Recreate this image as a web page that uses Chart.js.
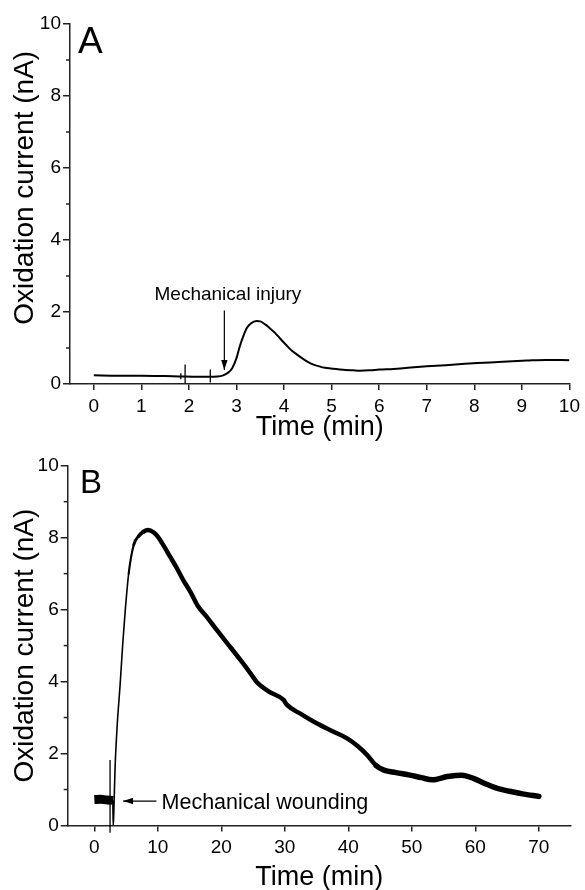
<!DOCTYPE html>
<html><head><meta charset="utf-8">
<script src="https://cdn.jsdelivr.net/npm/chart.js@4.4.1/dist/chart.umd.min.js"></script>
<style>
html,body{margin:0;padding:0;background:#fff;overflow:hidden;width:585px;height:890px;}
canvas{position:absolute;left:0;}
#cA{top:0;} #cB{top:445px;}
</style></head><body>
<canvas id="cA" width="585" height="445"></canvas>
<canvas id="cB" width="585" height="450"></canvas>
<script>
// ---------- Panel A data ----------
const timeA = [0, 0.5, 1.0, 1.5, 1.8, 2.2, 2.6, 2.72, 2.82, 2.91, 3.0, 3.07, 3.15, 3.22, 3.3, 3.42, 3.5, 3.61, 3.7, 3.81, 3.92, 4.04, 4.16, 4.28, 4.4, 4.51, 4.62, 4.74, 4.86, 4.98, 5.13, 5.29, 5.45, 5.6, 5.8, 6.0, 6.3, 6.6, 7.0, 7.4, 7.8, 8.2, 8.6, 9.1, 9.5, 10];
const currentA = [0.24, 0.23, 0.23, 0.22, 0.21, 0.20, 0.21, 0.24, 0.31, 0.44, 0.72, 1.05, 1.35, 1.56, 1.68, 1.75, 1.74, 1.65, 1.55, 1.42, 1.26, 1.09, 0.93, 0.81, 0.70, 0.61, 0.54, 0.49, 0.45, 0.43, 0.41, 0.39, 0.38, 0.37, 0.38, 0.40, 0.42, 0.45, 0.49, 0.52, 0.56, 0.59, 0.62, 0.65, 0.67, 0.66];
const spikeTimeA = [1.83, 1.92, 2.45];
const spikeTopA = [0.30, 0.54, 0.40];
const spikeBottomA = [0.13, 0.02, 0.04];

// ---------- Panel B data ----------
const timeB = [0, 1.0, 2.0, 2.9, 2.97, 3.05, 3.26, 3.6, 4.05, 4.45, 4.85, 5.4, 6.2, 7.0, 7.7, 8.5, 9.3, 9.9, 11.0, 12.0, 13.0, 14.0, 15.1, 16.3, 17.7, 19.3, 21.0, 23.0, 24.5, 25.6, 27.5, 29.8, 30.3, 32.5, 35.0, 37.5, 39.8, 41.5, 43.0, 44.4, 45.6, 47.5, 49.7, 51.5, 53.2, 55.6, 57.9, 59.7, 61.5, 63.0, 64.4, 66.0, 67.4, 70];
const currentB = [0.72, 0.73, 0.71, 0.70, 0.0, 0.3, 1.6, 2.8, 3.9, 5.0, 5.95, 7.0, 7.8, 8.05, 8.16, 8.21, 8.15, 8.05, 7.75, 7.45, 7.15, 6.82, 6.5, 6.1, 5.8, 5.43, 5.05, 4.6, 4.25, 3.98, 3.72, 3.49, 3.36, 3.1, 2.84, 2.62, 2.42, 2.2, 1.95, 1.66, 1.54, 1.47, 1.40, 1.33, 1.27, 1.36, 1.40, 1.31, 1.17, 1.06, 0.99, 0.93, 0.88, 0.81];
const spikeTimeB = [2.47];
const spikeTopB = [1.82];
const spikeBottomB = [-0.2];

// ---------- Ticks ----------
const xTicksA = [0, 1, 2, 3, 4, 5, 6, 7, 8, 9, 10];
const xTicksB = [0, 10, 20, 30, 40, 50, 60, 70];
const yTicks = [0, 2, 4, 6, 8, 10];
const yMinorTicks = [1, 3, 5, 7, 9];

const FAMILY = "'Liberation Sans', Arial, Helvetica, sans-serif";
const AXIS = '#222';
Chart.defaults.font.family = FAMILY;
Chart.defaults.color = '#000';

function toXY(xs, ys) { return xs.map((v, i) => ({x: v, y: ys[i]})); }
function spikes(ts, tops, bots) {
  const out = [];
  ts.forEach((t, i) => { out.push({x: t, y: tops[i]}, {x: t, y: bots[i]}, {x: t, y: null}); });
  return out;
}
function tickSetter(list) { return s => { s.ticks = list.map(v => ({value: v})); }; }

function axisX(min, max, ticks, h) {
  return {
    type: 'linear', position: 'bottom', min, max,
    afterBuildTicks: tickSetter(ticks),
    afterFit: s => { s.height = h; },
    border: {color: AXIS, width: 1.5},
    grid: {drawOnChartArea: false, drawTicks: true, tickLength: 6, color: AXIS, lineWidth: 1.5},
    ticks: {font: {size: 19}, color: '#000', padding: 5, maxRotation: 0, autoSkip: false},
    title: {display: true, text: 'Time (min)', font: {size: 27}, color: '#000', padding: {top: 0, bottom: 1}}
  };
}
function axisY(w) {
  return {
    type: 'linear', position: 'left', min: 0, max: 10,
    afterBuildTicks: tickSetter(yTicks),
    afterFit: s => { s.width = w; },
    border: {color: AXIS, width: 1.5},
    grid: {drawOnChartArea: false, drawTicks: true, tickLength: 7, color: AXIS, lineWidth: 1.5},
    ticks: {font: {size: 19}, color: '#000', padding: 2, autoSkip: false}
  };
}

const extras = {
  id: 'extras',
  afterDraw(chart, args, o) {
    const {ctx, chartArea: a, scales: {x, y}} = chart;
    ctx.save();
    // minor y ticks
    ctx.strokeStyle = AXIS; ctx.lineWidth = 1.5;
    yMinorTicks.forEach(v => {
      const py = y.getPixelForValue(v);
      ctx.beginPath(); ctx.moveTo(a.left - 4, py); ctx.lineTo(a.left, py); ctx.stroke();
    });
    // y title
    ctx.save();
    ctx.translate(o.yTitleX, y.getPixelForValue(o.yTitleAt));
    ctx.rotate(-Math.PI / 2);
    ctx.font = o.yTitleSize + 'px ' + FAMILY;
    ctx.fillStyle = '#000'; ctx.textAlign = 'center'; ctx.textBaseline = 'alphabetic';
    ctx.fillText('Oxidation current (nA)', 0, 0);
    ctx.restore();
    // panel letter
    ctx.font = o.letterSize + 'px ' + FAMILY;
    ctx.fillStyle = '#000'; ctx.textAlign = 'left'; ctx.textBaseline = 'alphabetic';
    ctx.fillText(o.letter, a.left + o.letterDx, a.top + o.letterDy);
    // note
    ctx.font = o.noteSize + 'px ' + FAMILY;
    ctx.textAlign = o.noteAlign;
    ctx.fillText(o.noteText, x.getPixelForValue(o.noteX), y.getPixelForValue(o.noteY));
    // arrow
    const x1 = x.getPixelForValue(o.ax1), y1 = y.getPixelForValue(o.ay1);
    const x2 = x.getPixelForValue(o.ax2), y2 = y.getPixelForValue(o.ay2);
    ctx.strokeStyle = '#000'; ctx.lineWidth = 1.2;
    ctx.beginPath(); ctx.moveTo(x1, y1); ctx.lineTo(x2, y2); ctx.stroke();
    const ang = Math.atan2(y2 - y1, x2 - x1), L = 10, W = 3.2;
    ctx.beginPath();
    ctx.moveTo(x2, y2);
    ctx.lineTo(x2 - L * Math.cos(ang) + W * Math.sin(ang), y2 - L * Math.sin(ang) - W * Math.cos(ang));
    ctx.lineTo(x2 - L * Math.cos(ang) - W * Math.sin(ang), y2 - L * Math.sin(ang) + W * Math.cos(ang));
    ctx.closePath(); ctx.fillStyle = '#000'; ctx.fill();
    ctx.restore();
  }
};

const common = {
  responsive: false, animation: false, events: [],
  plugins: {legend: {display: false}, tooltip: {enabled: false}},
  elements: {point: {radius: 0}}
};

function widthB(c) {
  const x0 = c.p0.parsed.x, x1 = c.p1.parsed.x;
  if (x0 < 2.9) return 9;
  if (x1 <= 5.4) return 1.6;
  if (x1 <= 6.2) return 2.1;
  if (x1 <= 7.0) return 2.8;
  if (x1 <= 7.7) return 3.6;
  if (x0 < 44) return 4.5;
  return 5.5;
}

new Chart(document.getElementById('cA'), {
  type: 'line',
  data: {datasets: [
    {data: toXY(timeA, currentA), borderColor: '#000', borderWidth: 2, cubicInterpolationMode: 'monotone', parsing: false},
    {data: spikes(spikeTimeA, spikeTopA, spikeBottomA), borderColor: '#000', borderWidth: 1.3, spanGaps: false, tension: 0, parsing: false}
  ]},
  options: Object.assign({}, common, {
    layout: {padding: {left: 0, right: 13, top: 24, bottom: 0}},
    scales: {x: axisX(-0.5, 10, xTicksA, 61), y: axisY(70)},
    plugins: Object.assign({}, common.plugins, {extras: {
      yTitleX: 33, yTitleAt: 5.45, yTitleSize: 28,
      letter: 'A', letterSize: 37, letterDx: 8, letterDy: 29,
      noteText: 'Mechanical injury', noteSize: 19, noteAlign: 'center', noteX: 2.82, noteY: 2.33,
      ax1: 2.745, ay1: 2.04, ax2: 2.745, ay2: 0.39
    }})
  }),
  plugins: [extras]
});

new Chart(document.getElementById('cB'), {
  type: 'line',
  data: {datasets: [
    {data: toXY(timeB, currentB), borderColor: '#000', borderWidth: 4.5, cubicInterpolationMode: 'monotone', parsing: false,
     borderCapStyle: 'round', borderJoinStyle: 'round',
     segment: {borderWidth: widthB, borderCapStyle: c => (c.p0.parsed.x < 2.9 ? 'butt' : 'round')}},
    {data: spikes(spikeTimeB, spikeTopB, spikeBottomB), borderColor: '#000', borderWidth: 1.3, spanGaps: false, tension: 0, parsing: false, clip: 12}
  ]},
  options: Object.assign({}, common, {
    layout: {padding: {left: 0, right: 14.4, top: 20.7, bottom: 0}},
    scales: {x: axisX(-4.2, 75, xTicksB, 69.5), y: axisY(67.7)},
    plugins: Object.assign({}, common.plugins, {extras: {
      yTitleX: 33, yTitleAt: 5.0, yTitleSize: 28,
      letter: 'B', letterSize: 33, letterDx: 12.3, letterDy: 27.6,
      noteText: 'Mechanical wounding', noteSize: 21.5, noteAlign: 'left', noteX: 10.58, noteY: 0.45,
      ax1: 9.78, ay1: 0.68, ax2: 4.52, ay2: 0.68
    }})
  }),
  plugins: [extras]
});
</script>
</body></html>
